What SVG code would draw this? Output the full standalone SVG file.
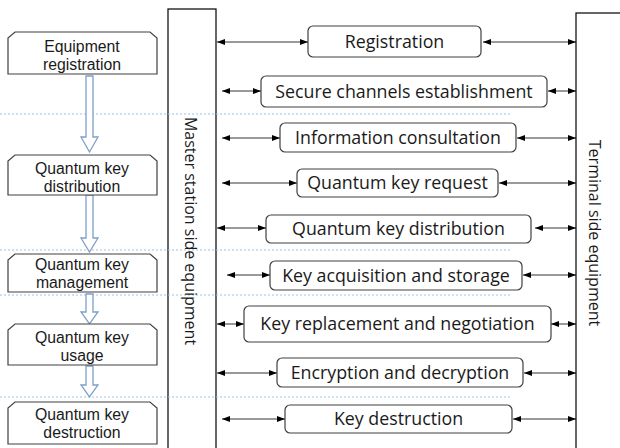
<svg xmlns="http://www.w3.org/2000/svg" width="620" height="448" viewBox="0 0 620 448">
<defs>
<marker id="ah" viewBox="0 0 8 6" refX="8" refY="3" markerWidth="8" markerHeight="6" markerUnits="userSpaceOnUse" orient="auto-start-reverse">
<path d="M0,0 L8,3 L0,6 Z" fill="#000"/>
</marker>
<style>
.bg{fill:#fff}
.dot{stroke:#9dc3e6;stroke-width:1;stroke-dasharray:2,2;fill:none}
.side{fill:#fff;stroke:#000;stroke-width:1.2}
.snip{fill:#fff;stroke:#404040;stroke-width:1.2}
.rr{fill:#fff;stroke:#404040;stroke-width:1.2}
.flow{fill:#fff;stroke:#7f9fc8;stroke-width:1.3}
.conn{stroke:#000;stroke-width:0.8;fill:none;marker-start:url(#ah);marker-end:url(#ah)}
.t{font-family:"Open Sans","Liberation Sans",sans-serif;fill:#1a1a1a;text-anchor:middle}
.lt{font-family:"Liberation Sans",Arial,sans-serif;font-size:15.8px}
.ct{font-size:17.8px}
.vt{font-size:16px;text-anchor:middle}
</style>
</defs>
<rect class="bg" x="0" y="0" width="620" height="448"/>
<g id="side-boxes">
<rect class="side" x="168" y="9" width="48" height="445"/>
<rect class="side" x="576" y="13" width="50" height="441"/>
</g>
<g id="guides">
<line class="dot" x1="0" y1="114" x2="512" y2="114"/>
<line class="dot" x1="0" y1="250" x2="512" y2="250"/>
<line class="dot" x1="0" y1="295" x2="512" y2="295"/>
<line class="dot" x1="0" y1="397" x2="512" y2="397"/>
</g>
<g id="master-label"><text class="t vt" transform="translate(185,231) rotate(90)">Master station side equipment</text></g>
<g id="terminal-label"><text class="t vt" transform="translate(589,233) rotate(90)">Terminal side equipment</text></g>
<g id="flow-arrows">
<path class="flow" d="M86,76 H93 V137 H98 L89.5,152 L81,137 H86 Z"/>
<path class="flow" d="M86,195 H93 V238 H98 L89.5,252 L81,238 H86 Z"/>
<path class="flow" d="M86,294 H93 V312 H98 L89.5,324 L81,312 H86 Z"/>
<path class="flow" d="M86,366 H93 V385 H98 L89.5,397 L81,385 H86 Z"/>
</g>
<g id="step1"><path class="snip" d="M15,32 H150 L157,38 V74 H8 V38 Z"/><text class="t lt" x="82" y="52">Equipment</text><text class="t lt" x="82" y="70">registration</text></g>
<g id="step2"><path class="snip" d="M15,155 H150 L157,161 V195 H8 V161 Z"/><text class="t lt" x="82" y="174">Quantum key</text><text class="t lt" x="82" y="192">distribution</text></g>
<g id="step3"><path class="snip" d="M15,254 H150 L157,260 V292 H8 V260 Z"/><text class="t lt" x="82" y="270">Quantum key</text><text class="t lt" x="82" y="288">management</text></g>
<g id="step4"><path class="snip" d="M15,324 H150 L157,330 V365 H8 V330 Z"/><text class="t lt" x="82" y="343">Quantum key</text><text class="t lt" x="82" y="361">usage</text></g>
<g id="step5"><path class="snip" d="M15,402 H150 L157,408 V444 H8 V408 Z"/><text class="t lt" x="82" y="420">Quantum key</text><text class="t lt" x="82" y="438">destruction</text></g>
<g id="connectors">
<line class="conn" x1="217" y1="42" x2="308" y2="42"/><line class="conn" x1="483" y1="42" x2="576" y2="42"/>
<line class="conn" x1="222" y1="91" x2="261" y2="91"/><line class="conn" x1="548" y1="91" x2="576" y2="91"/>
<line class="conn" x1="222" y1="138" x2="280" y2="138"/><line class="conn" x1="517" y1="138" x2="576" y2="138"/>
<line class="conn" x1="222" y1="183" x2="297" y2="183"/><line class="conn" x1="499" y1="183" x2="576" y2="183"/>
<line class="conn" x1="217" y1="228" x2="266" y2="228"/><line class="conn" x1="535" y1="228" x2="576" y2="228"/>
<line class="conn" x1="227" y1="275" x2="270" y2="275"/><line class="conn" x1="523" y1="275" x2="576" y2="275"/>
<line class="conn" x1="217" y1="324" x2="244" y2="324"/><line class="conn" x1="551" y1="324" x2="576" y2="324"/>
<line class="conn" x1="217" y1="373" x2="277" y2="373"/><line class="conn" x1="524" y1="373" x2="576" y2="373"/>
<line class="conn" x1="222" y1="419" x2="285" y2="419"/><line class="conn" x1="513" y1="419" x2="576" y2="419"/>
</g>
<g id="msg1"><rect class="rr" x="308" y="26" width="173" height="31" rx="5"/><text class="t ct" x="394.5" y="48">Registration</text></g>
<g id="msg2"><rect class="rr" x="261" y="76" width="286" height="31" rx="5"/><text class="t ct" x="404" y="97.5">Secure channels establishment</text></g>
<g id="msg3"><rect class="rr" x="280" y="123" width="236" height="29" rx="5"/><text class="t ct" x="398" y="144">Information consultation</text></g>
<g id="msg4"><rect class="rr" x="297" y="169" width="201" height="28" rx="5"/><text class="t ct" x="397.5" y="189">Quantum key request</text></g>
<g id="msg5"><rect class="rr" x="266" y="215" width="265" height="28" rx="5"/><text class="t ct" x="398.5" y="235">Quantum key distribution</text></g>
<g id="msg6"><rect class="rr" x="270" y="261" width="252" height="29" rx="5"/><text class="t ct" x="396" y="281.5">Key acquisition and storage</text></g>
<g id="msg7"><rect class="rr" x="244" y="306" width="307" height="36" rx="5"/><text class="t ct" x="397.5" y="330">Key replacement and  negotiation</text></g>
<g id="msg8"><rect class="rr" x="277" y="358" width="246" height="29" rx="5"/><text class="t ct" x="400" y="379">Encryption and decryption</text></g>
<g id="msg9"><rect class="rr" x="285" y="405" width="227" height="28" rx="5"/><text class="t ct" x="398.5" y="425">Key destruction</text></g>
</svg>
